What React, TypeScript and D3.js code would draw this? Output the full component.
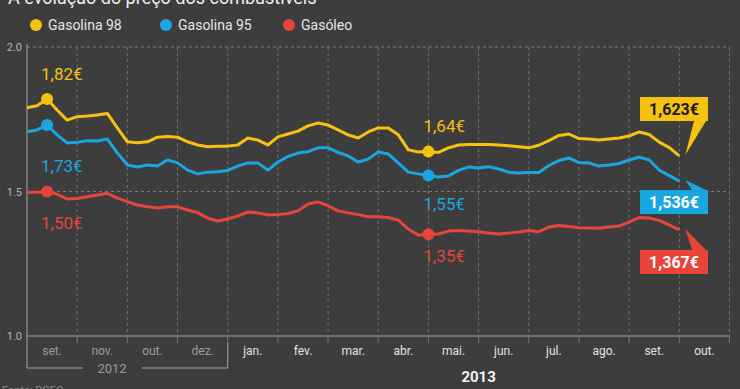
import React, { useEffect, useRef } from 'react';
import * as d3 from 'd3';

// month categories along the x axis (as printed on the original)
const months = ['set.', 'nov.', 'out.', 'dez.', 'jan.', 'fev.', 'mar.', 'abr.', 'mai.', 'jun.', 'jul.', 'ago.', 'set.', 'out.'];
const months2012 = 4;
const yTicks = [1.0, 1.5, 2.0];

// weekly-ish samples, one every 1/5 of a month, starting at the beginning of set. 2012
const gasolina98 = [1.790, 1.797, 1.820, 1.782, 1.747, 1.759, 1.761, 1.765, 1.770, 1.720, 1.672, 1.669, 1.672, 1.688, 1.690, 1.688, 1.672, 1.661, 1.655, 1.657, 1.657, 1.661, 1.685, 1.678, 1.661, 1.689, 1.699, 1.709, 1.727, 1.737, 1.730, 1.713, 1.696, 1.685, 1.706, 1.720, 1.720, 1.696, 1.644, 1.637, 1.638, 1.635, 1.651, 1.661, 1.663, 1.663, 1.663, 1.661, 1.658, 1.655, 1.651, 1.660, 1.676, 1.694, 1.699, 1.683, 1.682, 1.678, 1.682, 1.685, 1.692, 1.706, 1.697, 1.671, 1.652, 1.623];
const gasolina95 = [1.707, 1.713, 1.730, 1.696, 1.668, 1.670, 1.676, 1.675, 1.682, 1.633, 1.592, 1.585, 1.592, 1.588, 1.609, 1.599, 1.574, 1.561, 1.567, 1.568, 1.573, 1.588, 1.599, 1.599, 1.574, 1.602, 1.621, 1.633, 1.638, 1.651, 1.651, 1.635, 1.623, 1.602, 1.612, 1.637, 1.630, 1.599, 1.567, 1.561, 1.555, 1.550, 1.554, 1.573, 1.585, 1.581, 1.586, 1.578, 1.567, 1.564, 1.566, 1.566, 1.590, 1.607, 1.616, 1.600, 1.599, 1.588, 1.592, 1.597, 1.609, 1.619, 1.609, 1.574, 1.555, 1.536];
const gasoleo = [1.497, 1.497, 1.500, 1.491, 1.474, 1.476, 1.482, 1.488, 1.494, 1.477, 1.465, 1.453, 1.447, 1.443, 1.447, 1.447, 1.436, 1.427, 1.408, 1.398, 1.405, 1.415, 1.429, 1.426, 1.419, 1.420, 1.424, 1.433, 1.457, 1.464, 1.450, 1.433, 1.426, 1.420, 1.413, 1.413, 1.410, 1.401, 1.370, 1.349, 1.352, 1.353, 1.363, 1.365, 1.363, 1.361, 1.356, 1.353, 1.356, 1.360, 1.365, 1.361, 1.377, 1.382, 1.379, 1.375, 1.374, 1.373, 1.377, 1.381, 1.394, 1.410, 1.408, 1.400, 1.384, 1.367];

const seriesNames = ['Gasolina 98', 'Gasolina 95', 'Gasóleo'];
const seriesColors = ['#f5c20f', '#1aa7e0', '#e8453a'];
const seriesValues = [gasolina98, gasolina95, gasoleo];
const startLabels = ['1,82€', '1,73€', '1,50€'];
const midLabels = ['1,64€', '1,55€', '1,35€'];
const endLabels = ['1,623€', '1,536€', '1,367€'];
// sample indexes where the highlighted dots sit
const startIdx = 2;
const midIdx = 40;
const samplesPerMonth = 5;

const App: React.FC = () => {
  const svgRef = useRef<SVGSVGElement>(null);

  useEffect(() => {
    if (!svgRef.current) return;
    document.body.style.margin = '0';

    const width = 740;
    const height = 389;
    const left = 27;
    const right = 729.5;
    const top = 47;
    const bottom = 336;
    const font = 'Roboto, "Noto Sans", sans-serif';

    d3.select(svgRef.current).selectAll('*').remove();
    const svg = d3.select(svgRef.current)
      .attr('width', width)
      .attr('height', height);

    svg.append('rect').attr('width', width).attr('height', height).attr('fill', '#3d3d3d');

    const x = d3.scaleBand<number>()
      .domain(d3.range(months.length))
      .range([left, right])
      .paddingInner(0)
      .paddingOuter(0);
    const t = d3.scaleLinear().domain([0, months.length]).range([left, right]);
    const y = d3.scaleLinear().domain([1, 2]).range([bottom, top]);
    const px = (i: number) => t(i / samplesPerMonth);

    // title (cut at the top edge, as in the source)
    svg.append('text')
      .attr('x', 8).attr('y', 4)
      .style('font-family', font).style('font-size', '18px')
      .style('fill', '#f0f0f0')
      .text('A evolução do preço dos combustíveis');

    // legend
    const legendX = [36, 166, 289];
    seriesNames.forEach((name, i) => {
      svg.append('circle').attr('cx', legendX[i]).attr('cy', 25).attr('r', 6).attr('fill', seriesColors[i]);
      svg.append('text')
        .attr('x', legendX[i] + 12).attr('y', 30)
        .style('font-family', font).style('font-size', '14px')
        .style('fill', '#e6e6e6')
        .text(name);
    });

    // horizontal grid
    yTicks.forEach(v => {
      if (v === 1) {
        svg.append('line')
          .attr('x1', left).attr('x2', right).attr('y1', y(v)).attr('y2', y(v))
          .attr('stroke', '#6e6e6e').attr('stroke-width', 2);
      } else {
        svg.append('line')
          .attr('x1', left).attr('x2', right).attr('y1', y(v)).attr('y2', y(v))
          .attr('stroke', '#7a7a7a').attr('stroke-width', 1).attr('stroke-dasharray', '3,3');
      }
      svg.append('text')
        .attr('x', 22).attr('y', y(v) + 4)
        .attr('text-anchor', 'end')
        .style('font-family', font).style('font-size', '11px')
        .style('fill', '#b5b5b5')
        .text(v.toFixed(1));
    });

    // vertical grid at month boundaries
    d3.range(1, months.length + 1).forEach(i => {
      const gx = i < months.length ? (x(i) as number) : right;
      svg.append('line')
        .attr('x1', gx).attr('x2', gx).attr('y1', top).attr('y2', bottom)
        .attr('stroke', '#707070').attr('stroke-width', 1).attr('stroke-dasharray', '3,3');
      svg.append('line')
        .attr('x1', gx).attr('x2', gx).attr('y1', bottom).attr('y2', bottom + 7)
        .attr('stroke', '#777').attr('stroke-width', 1);
    });

    // left axis line and 2012 bracket
    const sepX = x(months2012) as number;
    svg.append('path')
      .attr('d', `M${left},${top - 3} L${left},368 L${left + 56},368 M${left + 115},368 L${sepX},368 L${sepX},${bottom + 7}`)
      .attr('fill', 'none').attr('stroke', '#a8a8a8').attr('stroke-width', 1);

    // month labels
    months.forEach((m, i) => {
      svg.append('text')
        .attr('x', (x(i) as number) + x.bandwidth() / 2).attr('y', 355)
        .attr('text-anchor', 'middle')
        .style('font-family', font).style('font-size', '12px')
        .style('fill', i < months2012 ? '#9c9c9c' : '#e2e2e2')
        .text(m);
    });
    svg.append('text')
      .attr('x', left + 85).attr('y', 373)
      .attr('text-anchor', 'middle')
      .style('font-family', font).style('font-size', '13px')
      .style('fill', '#9c9c9c')
      .text('2012');
    svg.append('text')
      .attr('x', ((x(4) as number) + right) / 2).attr('y', 382)
      .attr('text-anchor', 'middle')
      .style('font-family', font).style('font-size', '15px').style('font-weight', 'bold')
      .style('fill', '#f2f2f2')
      .text('2013');
    svg.append('text')
      .attr('x', 2).attr('y', 394)
      .style('font-family', font).style('font-size', '11px')
      .style('fill', '#8a8a8a')
      .text('Fonte: DGEG');

    // lines
    const line = d3.line<number>()
      .x((_, i) => px(i))
      .y(d => y(d))
      .curve(d3.curveLinear);

    seriesValues.forEach((vals, s) => {
      svg.append('path')
        .datum(vals)
        .attr('d', line)
        .attr('fill', 'none')
        .attr('stroke', seriesColors[s])
        .attr('stroke-width', 3)
        .attr('stroke-linejoin', 'round');
    });

    // highlighted dots and value labels
    const startOffsets = [-19, 47, 37];
    const midOffsets = [-20, 34, 28];
    seriesValues.forEach((vals, s) => {
      const sx = px(startIdx);
      const sy = y(vals[startIdx]);
      svg.append('circle').attr('cx', sx).attr('cy', sy).attr('r', 6).attr('fill', seriesColors[s]);
      svg.append('text')
        .attr('x', sx - 6).attr('y', sy + startOffsets[s])
        .style('font-family', font).style('font-size', '17px')
        .style('fill', seriesColors[s])
        .text(startLabels[s]);

      const mx = px(midIdx);
      const my = y(vals[midIdx]);
      svg.append('circle').attr('cx', mx).attr('cy', my).attr('r', 6).attr('fill', seriesColors[s]);
      svg.append('text')
        .attr('x', mx - 5).attr('y', my + midOffsets[s])
        .style('font-family', font).style('font-size', '17px')
        .style('fill', seriesColors[s])
        .text(midLabels[s]);
    });

    // end call-outs
    const boxY = [97, 190, 250];
    const boxX = 640;
    const boxW = 68;
    const boxH = 24;
    const textColors = ['#1a1a1a', '#ffffff', '#ffffff'];
    seriesValues.forEach((vals, s) => {
      const last = vals.length - 1;
      const ex = px(last) + 6;
      const ey = y(vals[last]) - 1;
      const by = boxY[s];
      const g = svg.append('g');
      let pointer: string;
      if (ey > by + boxH) {
        pointer = `M${boxX + 54},${by + boxH} L${boxX + 66},${by + boxH} L${ex},${ey} Z`;
      } else {
        pointer = `M${boxX + 52},${by} L${boxX + 66},${by} L${ex},${ey} Z`;
      }
      g.append('path').attr('d', pointer).attr('fill', seriesColors[s]);
      g.append('rect')
        .attr('x', boxX).attr('y', by).attr('width', boxW).attr('height', boxH)
        .attr('fill', seriesColors[s]);
      g.append('text')
        .attr('x', boxX + boxW / 2).attr('y', by + 18)
        .attr('text-anchor', 'middle')
        .style('font-family', font).style('font-size', '16px').style('font-weight', 'bold')
        .style('fill', textColors[s])
        .text(endLabels[s]);
    });
  }, []);

  return <svg ref={svgRef} style={{ display: 'block' }}></svg>;
};

export default App;
